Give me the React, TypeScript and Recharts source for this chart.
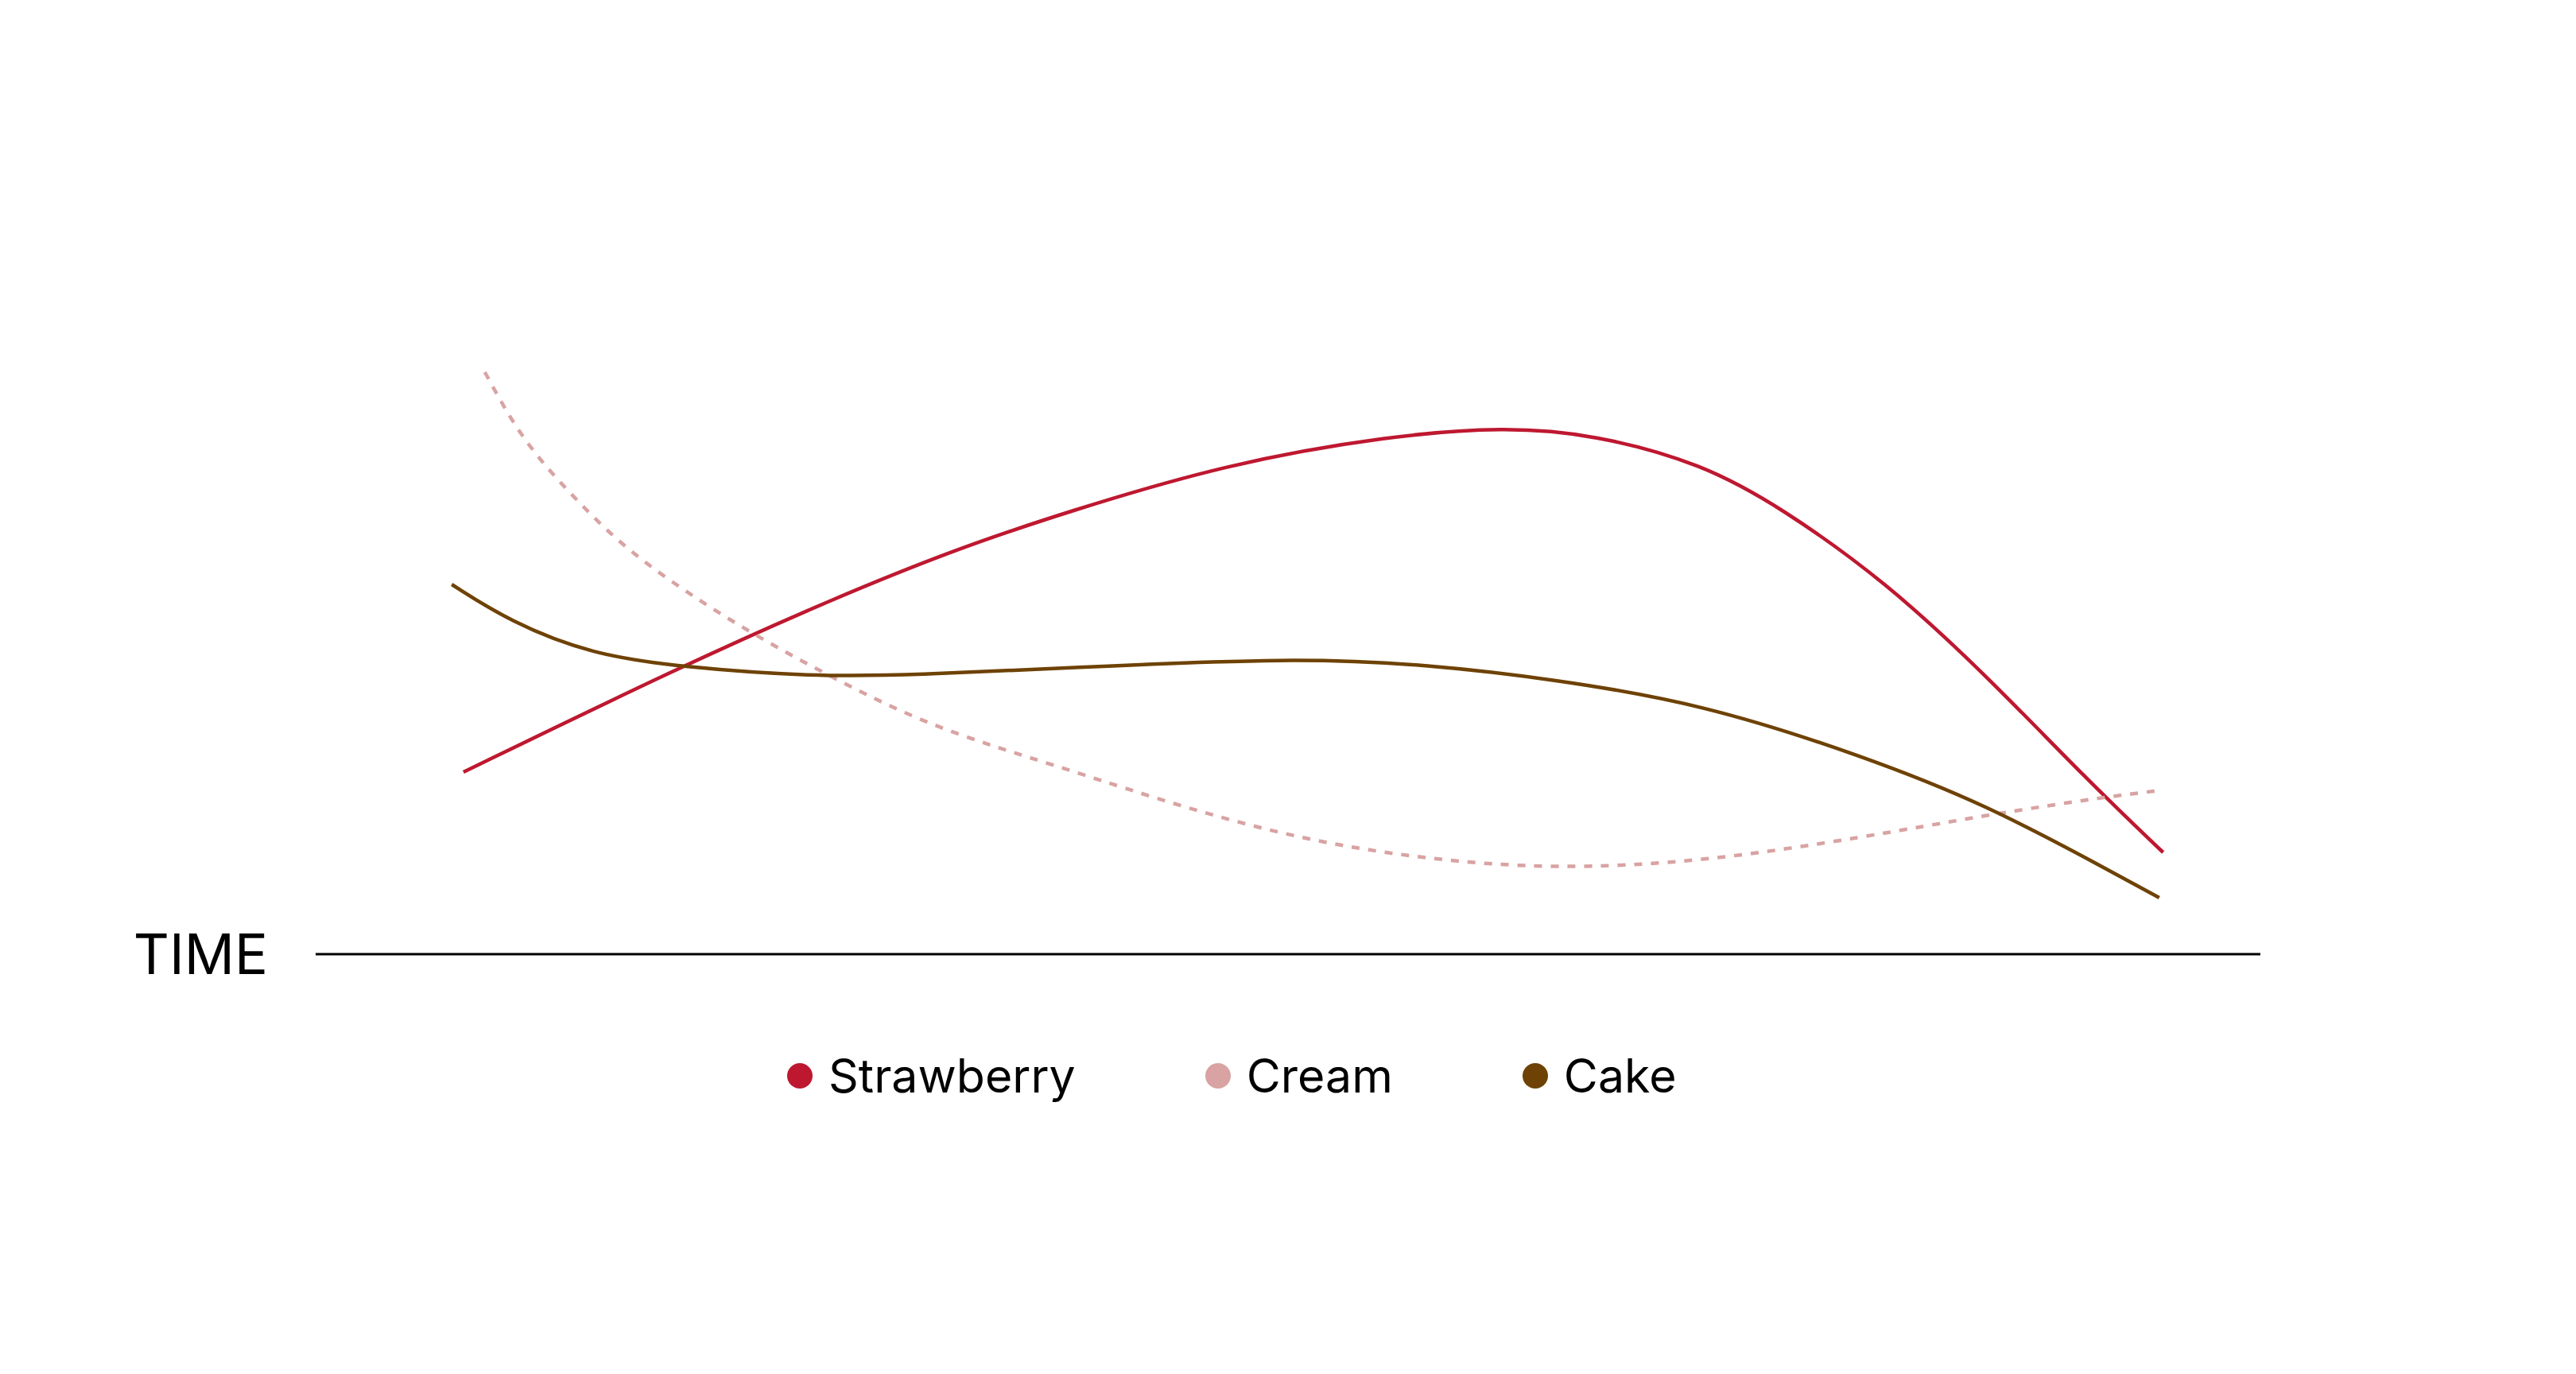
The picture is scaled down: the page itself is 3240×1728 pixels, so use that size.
import { LineChart, XAxis, YAxis, Line } from "recharts"

// values: t = time (0-100 along the axis), v = level (0-100)
const strawberry = [
    { t: 7.6, v: 22.9 },
    { t: 18.8, v: 36.2 },
    { t: 26.7, v: 44.8 },
    { t: 33.0, v: 51.0 },
    { t: 38.6, v: 55.6 },
    { t: 46.9, v: 61.7 },
    { t: 55.2, v: 65.2 },
    { t: 61.1, v: 66.3 },
    { t: 65.7, v: 65.4 },
    { t: 71.3, v: 61.7 },
    { t: 75.4, v: 56.1 },
    { t: 80.7, v: 46.9 },
    { t: 85.9, v: 35.1 },
    { t: 91.1, v: 21.9 },
    { t: 95.0, v: 12.8 },
]

const cream = [
    { t: 8.7, v: 73.2 },
    { t: 10.6, v: 64.7 },
    { t: 13.2, v: 57.6 },
    { t: 15.9, v: 51.0 },
    { t: 19.2, v: 45.3 },
    { t: 22.5, v: 40.2 },
    { t: 26.7, v: 34.6 },
    { t: 30.9, v: 29.5 },
    { t: 35.0, v: 26.0 },
    { t: 38.6, v: 23.3 },
    { t: 44.8, v: 18.3 },
    { t: 51.1, v: 14.2 },
    { t: 57.3, v: 11.9 },
    { t: 63.6, v: 10.7 },
    { t: 71.3, v: 11.6 },
    { t: 79.6, v: 14.7 },
    { t: 85.9, v: 17.5 },
    { t: 92.1, v: 19.8 },
    { t: 94.9, v: 20.6 },
]

const cake = [
    { t: 7.0, v: 46.5 },
    { t: 10.0, v: 41.8 },
    { t: 14.2, v: 37.7 },
    { t: 18.8, v: 36.1 },
    { t: 25.5, v: 34.9 },
    { t: 30.9, v: 35.1 },
    { t: 38.6, v: 36.0 },
    { t: 50.3, v: 37.3 },
    { t: 57.3, v: 36.4 },
    { t: 63.6, v: 34.6 },
    { t: 71.3, v: 31.5 },
    { t: 79.6, v: 24.9 },
    { t: 85.9, v: 18.8 },
    { t: 92.1, v: 10.7 },
    { t: 94.8, v: 7.1 },
]

const series = [
    { name: "Strawberry", data: strawberry, color: "#BE1830", dash: undefined },
    { name: "Cream", data: cream, color: "#D8A3A2", dash: "10 11" },
    { name: "Cake", data: cake, color: "#6E4205", dash: undefined },
]

const FONT = "Inter, 'Noto Sans', sans-serif"

export default function App() {
    return (
        <div style={{ position: "relative", width: 3224, height: 1500, fontFamily: FONT }}>
            <LineChart width={3224} height={1500} margin={{ top: 192, right: 389, bottom: 307, left: 389 }}>
                <XAxis
                    type="number"
                    dataKey="t"
                    domain={[0, 100]}
                    height={1}
                    tick={false}
                    tickLine={false}
                    axisLine={{ stroke: "#000", strokeWidth: 3 }}
                    label={{
                        value: "TIME",
                        position: "left",
                        offset: 60,
                        fill: "#000",
                        fontSize: 70,
                        fontFamily: FONT,
                    }}
                    allowDuplicatedCategory={false}
                />
                <YAxis type="number" domain={[0, 100]} hide />
                {series.map((s) => (
                    <Line
                        key={s.name}
                        data={s.data}
                        dataKey="v"
                        name={s.name}
                        type="basis"
                        stroke={s.color}
                        strokeWidth={4.5}
                        strokeDasharray={s.dash}
                        dot={false}
                        activeDot={false}
                        isAnimationActive={false}
                    />
                ))}
            </LineChart>

            {/* legend under the chart */}
            <div
                style={{
                    position: "absolute",
                    top: 1315,
                    left: 982,
                    display: "flex",
                    gap: 163,
                    height: 60,
                    alignItems: "center",
                }}
            >
                {series.map((s) => (
                    <div key={s.name} style={{ display: "flex", alignItems: "center", gap: 20 }}>
                        <span
                            style={{
                                width: 32,
                                height: 32,
                                borderRadius: "50%",
                                background: s.color,
                                display: "inline-block",
                            }}
                        />
                        <span style={{ fontSize: 59, lineHeight: "60px", color: "#000" }}>{s.name}</span>
                    </div>
                ))}
            </div>
        </div>
    )
}
